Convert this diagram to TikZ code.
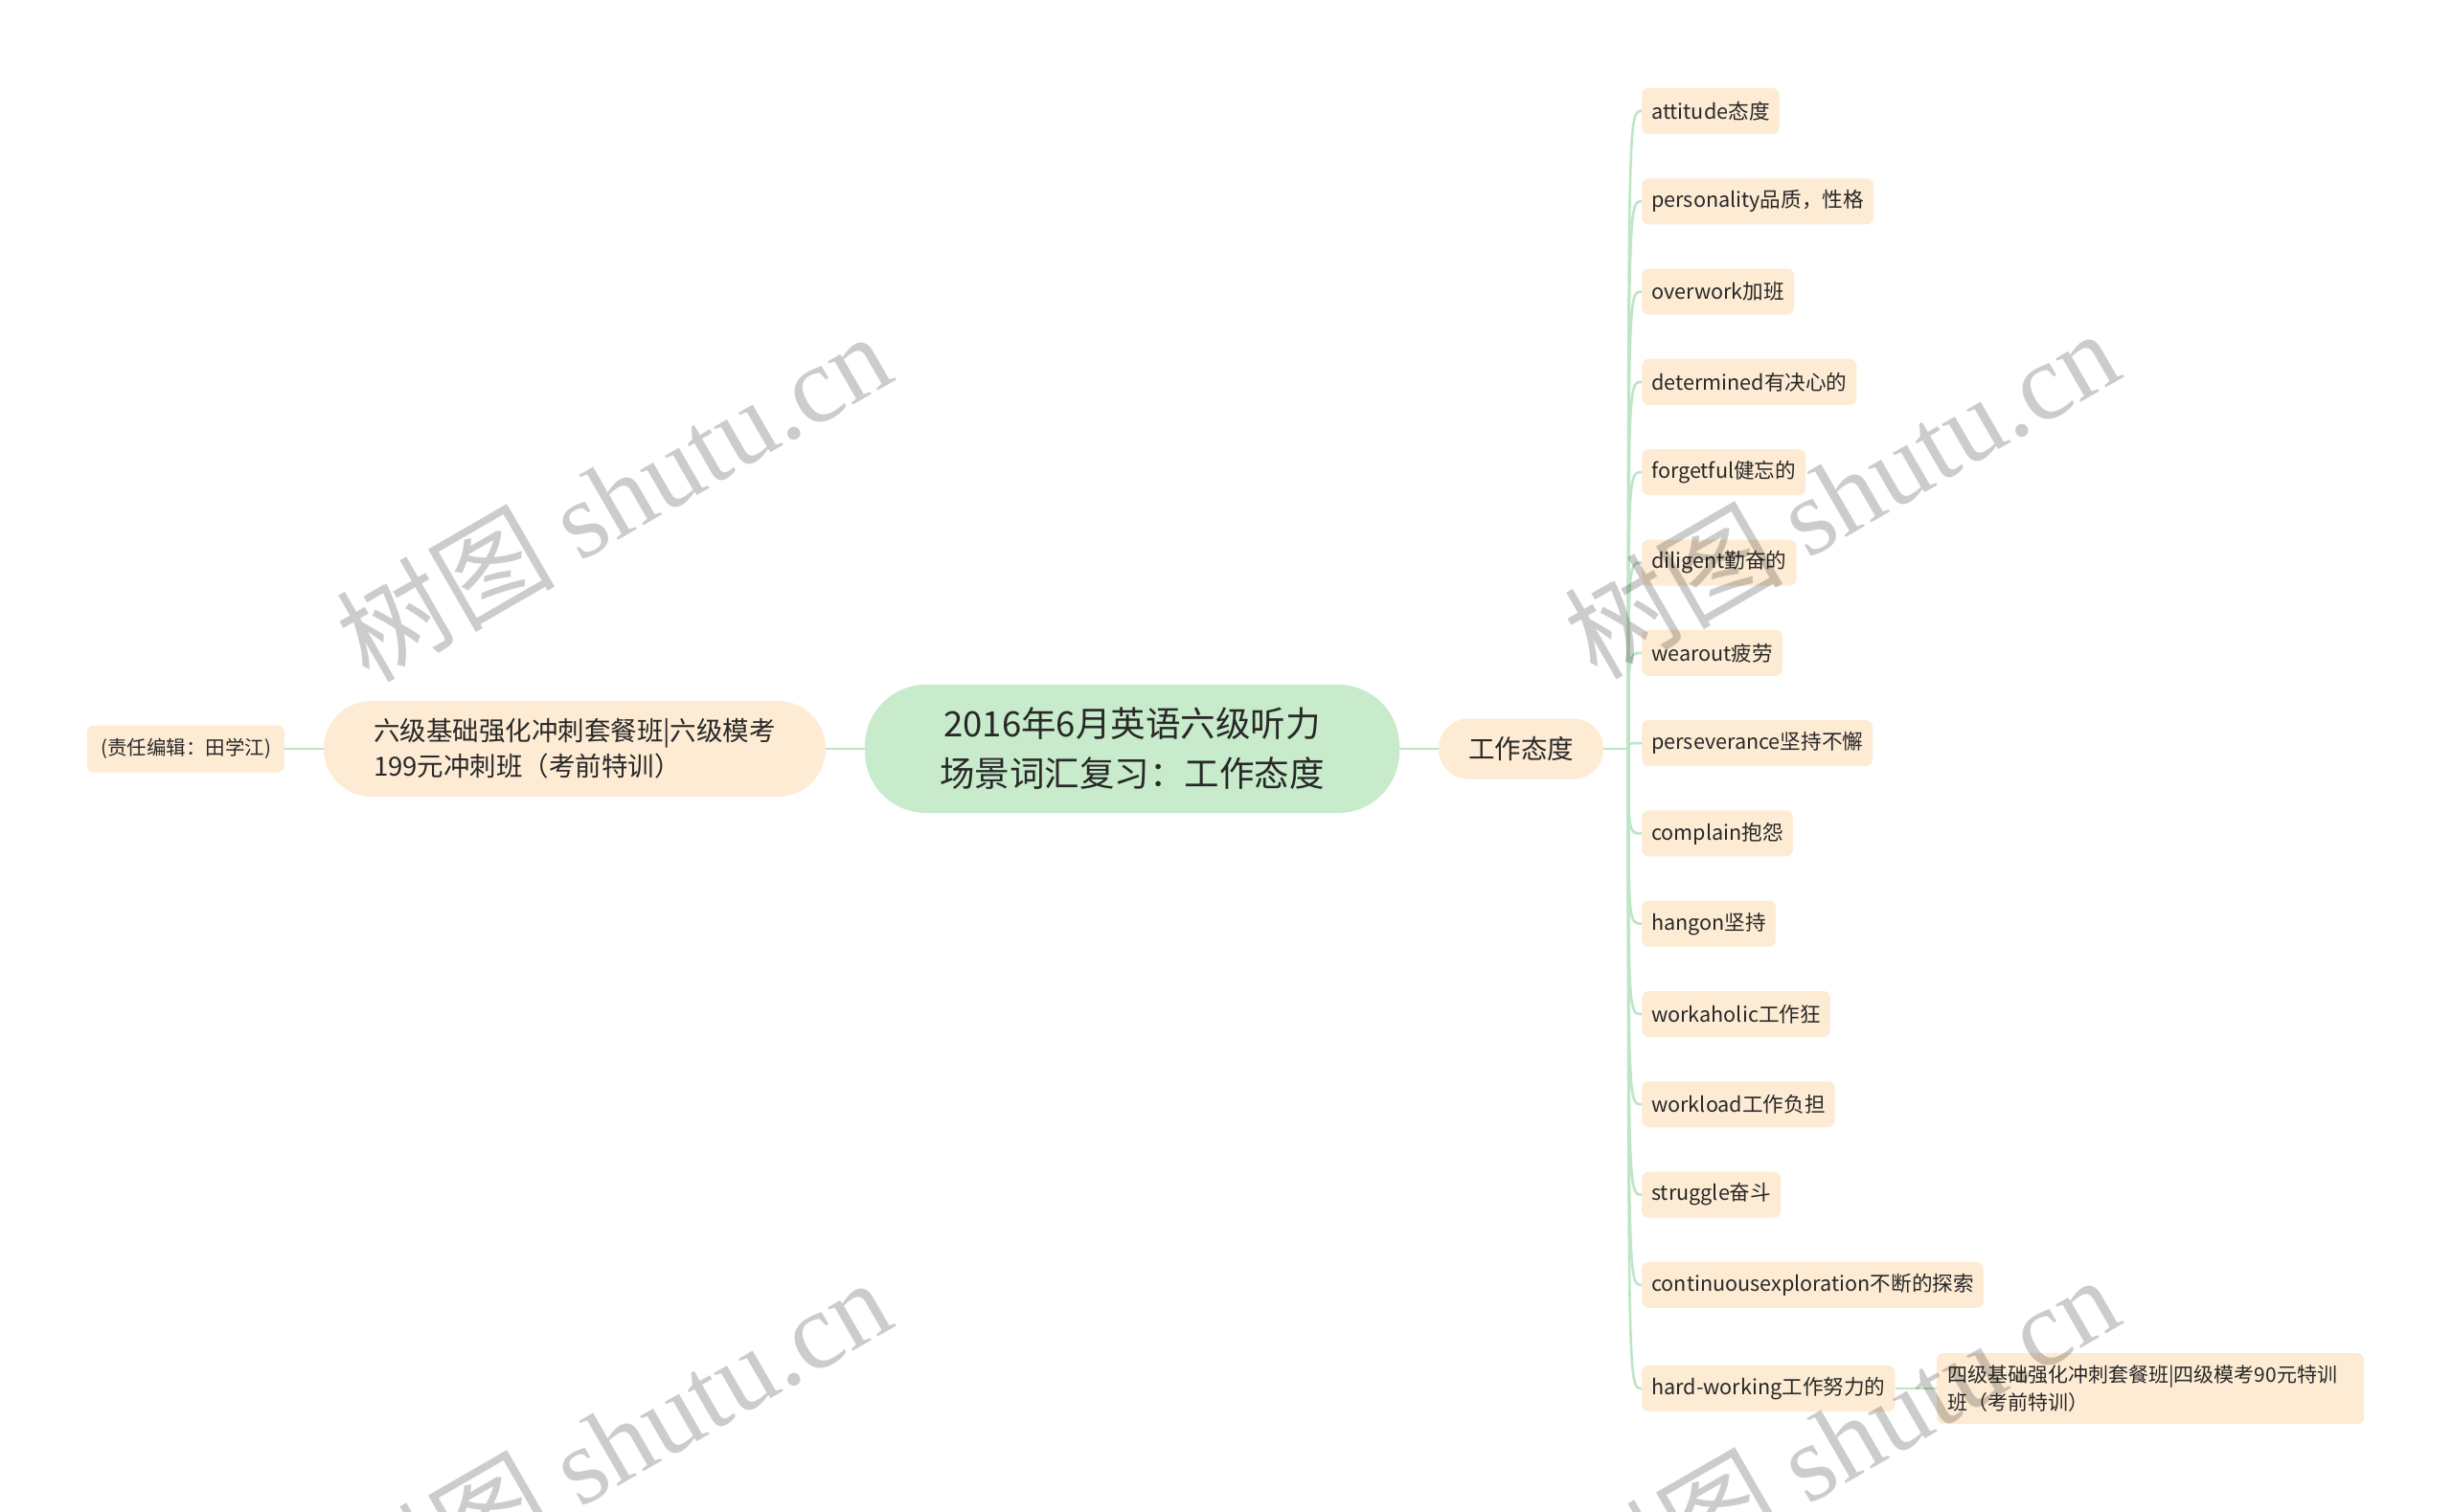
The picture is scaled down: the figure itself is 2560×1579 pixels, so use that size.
\documentclass[tikz,border=0pt]{standalone}
\usepackage{fontspec}
\setmainfont{Noto Sans CJK SC}
\newfontfamily\wmserif{Liberation Serif}
\definecolor{peach}{RGB}{253,235,212}
\definecolor{mint}{RGB}{199,235,203}
\definecolor{lnk}{RGB}{190,229,197}
\definecolor{txt}{RGB}{40,40,40}
\tikzset{
  conn/.style={draw=lnk, line width=2.6pt},
  leaf/.style={fill=peach, rounded corners=7pt, inner xsep=10pt, inner ysep=0pt,
    minimum height=48pt, text=txt, font=\fontsize{21.6}{29}\selectfont, anchor=west},
  rootbox/.style={fill=mint, rounded corners=64pt, minimum width=558pt, minimum height=134pt,
    text=txt, align=center, font=\fontsize{36.5}{52}\selectfont},
  pill/.style={fill=peach, text=txt},
  wm/.style={text=black, opacity=0.2, rotate=30, font=\fontsize{114}{114}\selectfont}
}
\begin{document}
\begin{tikzpicture}[x=1pt,y=-1pt]
\useasboundingbox (0,0) rectangle (2560,1579);
\fill[white] (0,0) rectangle (2560,1579);
% root
\node[rootbox] (c) at (1182,782) {2016年6月英语六级听力\\场景词汇复习：工作态度};
% left branch
\node[pill, rounded corners=50pt, minimum width=524pt, minimum height=100pt, inner xsep=49pt,
  align=left, font=\fontsize{27.5}{37}\selectfont] (l) at (600,782)
  {六级基础强化冲刺套餐班|六级模考\\199元冲刺班（考前特训）};
\node[pill, rounded corners=7pt, minimum width=206pt, minimum height=49pt, inner xsep=6pt,
  font=\fontsize{20.5}{24}\selectfont] (e) at (194,782) {(责任编辑：田学江)};
% right branch
\node[pill, rounded corners=31pt, minimum width=172pt, minimum height=63pt,
  font=\fontsize{27.5}{32}\selectfont] (t) at (1588,782) {工作态度};
\draw[conn] (c.west) -- (l.west -| l.east);
\draw[conn] (l.west) -- (e.east);
\draw[conn] (c.east) -- (t.west);
\coordinate (j) at (1700,782);
\draw[conn] (t.east) -- (j);
\foreach \i/\t in {0/attitude态度,1/personality品质，性格,2/overwork加班,3/determined有决心的,
  4/forgetful健忘的,5/diligent勤奋的,6/wearout疲劳,7/perseverance坚持不懈,8/complain抱怨,
  9/hangon坚持,10/workaholic工作狂,11/workload工作负担,12/struggle奋斗,
  13/continuousexploration不断的探索}{
  \node[leaf] (k\i) at (1714,{116+94.3*\i}) {\t};
  \draw[conn] (j) .. controls (1700,{116+94.3*\i}) .. (k\i.west);
}
\node[leaf] (hw) at (1714,1450) {hard-working工作努力的};
\draw[conn] (j) .. controls (1700,1450) .. (hw.west);
\node[leaf, minimum height=74pt, align=left, text width=424pt, inner xsep=11pt,
  font=\fontsize{21}{29}\selectfont] (sj) at (2022,1450)
  {四级基础强化冲刺套餐班|四级模考90元特训\\班（考前特训）};
\draw[conn] (hw.east) -- (sj.west);
% watermarks
\node[wm] (w1) at (640,518) {树图 {\wmserif shutu.cn}};
\node[wm] (w2) at (1922,515) {树图 {\wmserif shutu.cn}};
\node[wm] (w3) at (640,1506) {树图 {\wmserif shutu.cn}};
\node[wm] (w4) at (1922,1503) {树图 {\wmserif shutu.cn}};
\end{tikzpicture}
\end{document}
